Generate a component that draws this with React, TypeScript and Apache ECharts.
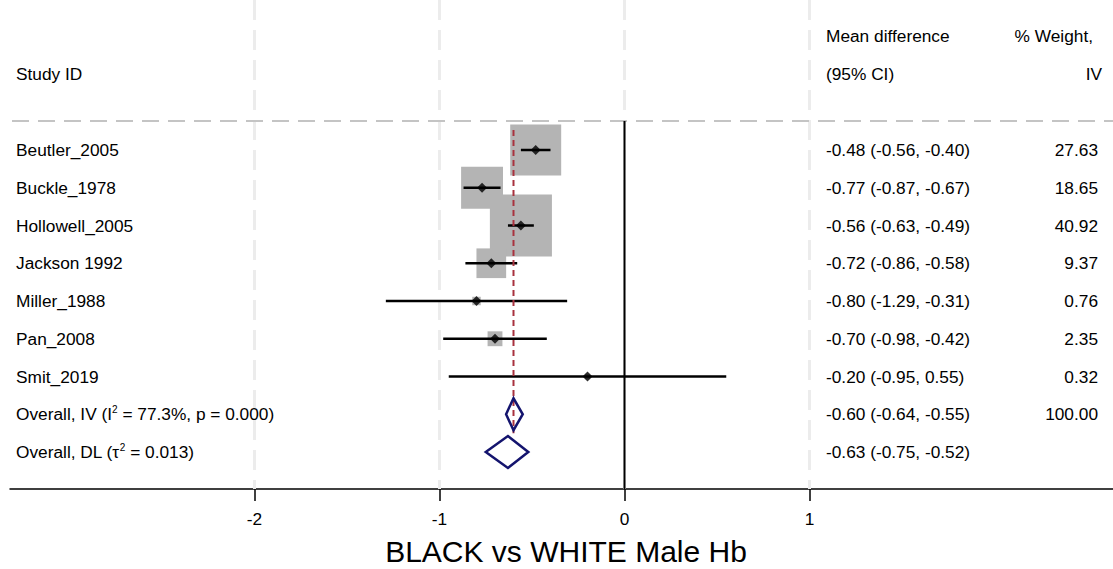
import React, { useEffect, useRef } from 'react';
import * as echarts from 'echarts';

// Study-level results (mean difference with 95% CI and inverse-variance weight)
const studies = ['Beutler_2005', 'Buckle_1978', 'Hollowell_2005', 'Jackson 1992', 'Miller_1988', 'Pan_2008', 'Smit_2019'];
const estimates = [-0.48, -0.77, -0.56, -0.72, -0.80, -0.70, -0.20];
const lowerCI = [-0.56, -0.87, -0.63, -0.86, -1.29, -0.98, -0.95];
const upperCI = [-0.40, -0.67, -0.49, -0.58, -0.31, -0.42, 0.55];
const weights = [27.63, 18.65, 40.92, 9.37, 0.76, 2.35, 0.32];

// Pooled estimates
const overallLabels = ['Overall, IV (I{sup|2} = 77.3%, p = 0.000)', 'Overall, DL (τ{sup|2} = 0.013)'];
const overallEst = [-0.60, -0.63];
const overallLower = [-0.64, -0.75];
const overallUpper = [-0.55, -0.52];
const overallWeight = ['100.00', ''];

const xTicks = [-2, -1, 0, 1];
const axisTitle = 'BLACK vs WHITE Male Hb';
const headerLeft = 'Study ID';
const headerCI = ['Mean difference', '(95% CI)'];
const headerWeight = ['% Weight,', 'IV'];

const FONT = '"Liberation Sans", Arial, Helvetica, sans-serif';
const FS = 17.3;
const X_MIN = (10 - 624.5) / 185;
const X_MAX = (1113 - 624.5) / 185;
const Y_MIN = -150 / 37.75;
const Y_MAX = (489 - 150) / 37.75;
const HEADER_ROW = (121 - 150) / 37.75;
const BOX_SCALE = 9.7;

const fmt = (v: number) => v.toFixed(2);

export default function App() {
  const ref = useRef<HTMLDivElement>(null);

  useEffect(() => {
    if (!ref.current) return;
    const chart = echarts.init(ref.current, undefined, { renderer: 'svg' });

    const nStudies = studies.length;
    const studyRows = studies.map((_, i) => i);
    const overallRows = overallEst.map((_, i) => nStudies + i);
    const allRows = [...studyRows, ...overallRows];

    const ciText = [
      ...estimates.map((e, i) => `${fmt(e)} (${fmt(lowerCI[i])}, ${fmt(upperCI[i])})`),
      ...overallEst.map((e, i) => `${fmt(e)} (${fmt(overallLower[i])}, ${fmt(overallUpper[i])})`),
    ];
    const weightText = [...weights.map(fmt), ...overallWeight];
    const labelText = [...studies, ...overallLabels];

    const textStyleBase = {
      fontFamily: FONT,
      fontSize: FS,
      fill: '#000',
      verticalAlign: 'middle',
      rich: {
        sup: { fontSize: 10, fontFamily: FONT, verticalAlign: 'top', padding: [0, 0, 9, 0] },
      },
    };

    const textColumn = (texts: string[], xPix: number, align: string, z: number) => ({
      type: 'custom',
      z,
      silent: true,
      data: allRows.map((r) => [r]),
      renderItem: (params: any, api: any) => {
        const c = api.coord([0, api.value(0)]);
        return {
          type: 'text',
          x: xPix,
          y: c[1],
          style: { ...textStyleBase, text: texts[params.dataIndex], x: 0, y: 0, align },
        };
      },
    });

    const headerText = (text: string, x: number, y: number, align = 'left') => ({
      type: 'text',
      x,
      y,
      style: { text, font: `${FS}px ${FONT}`, fill: '#000', verticalAlign: 'middle', align },
    });

    const option: any = {
      animation: false,
      backgroundColor: '#fff',
      grid: { left: 10, right: 0, top: 0, bottom: 80, containLabel: false },
      xAxis: {
        type: 'value',
        min: X_MIN,
        max: X_MAX,
        splitLine: { show: false },
        axisLine: { show: true, onZero: false, lineStyle: { color: '#000', width: 1.5 } },
        axisTick: { show: true, customValues: xTicks, length: 12, lineStyle: { color: '#000', width: 1.5 } },
        axisLabel: {
          customValues: xTicks,
          color: '#000',
          fontSize: FS,
          fontFamily: FONT,
          margin: 21,
        },
      },
      yAxis: {
        type: 'value',
        inverse: true,
        min: Y_MIN,
        max: Y_MAX,
        show: false,
      },
      graphic: [
        headerText(headerLeft, 16, 74),
        headerText(headerCI[0], 826, 36),
        headerText(headerCI[1], 826, 74),
        headerText(headerWeight[0], 1093, 36, 'right'),
        headerText(headerWeight[1], 1102, 74, 'right'),
        { type: 'text', x: 566, y: 551, style: { text: axisTitle, font: `30px ${FONT}`, fill: '#000', verticalAlign: 'middle', align: 'center' } },
      ],
      series: [
        // light dashed reference lines at each tick
        {
          type: 'custom',
          z: 1,
          silent: true,
          data: xTicks.map((v) => [v]),
          renderItem: (_p: any, api: any) => {
            const a = api.coord([api.value(0), Y_MIN]);
            const b = api.coord([api.value(0), Y_MAX]);
            return {
              type: 'line',
              shape: { x1: a[0], y1: a[1], x2: b[0], y2: b[1] },
              style: { stroke: '#ececec', lineWidth: 3, lineDash: [20, 10] },
            };
          },
        },
        // dashed separator under the header
        {
          type: 'custom',
          z: 2,
          silent: true,
          data: [[HEADER_ROW]],
          renderItem: (_p: any, api: any) => {
            const a = api.coord([X_MIN, api.value(0)]);
            const b = api.coord([X_MAX, api.value(0)]);
            return {
              type: 'line',
              shape: { x1: a[0] + 2, y1: a[1], x2: b[0], y2: b[1] },
              style: { stroke: '#c4c4c4', lineWidth: 2, lineDash: [17, 9] },
            };
          },
        },
        // line of no effect
        {
          type: 'custom',
          z: 3,
          silent: true,
          data: [[0]],
          renderItem: (_p: any, api: any) => {
            const a = api.coord([api.value(0), HEADER_ROW]);
            const b = api.coord([api.value(0), Y_MAX]);
            return {
              type: 'line',
              shape: { x1: a[0], y1: a[1], x2: b[0], y2: b[1] },
              style: { stroke: '#000', lineWidth: 2 },
            };
          },
        },
        // weight boxes
        {
          type: 'custom',
          z: 4,
          silent: true,
          data: studyRows.map((r) => [r, estimates[r], weights[r]]),
          renderItem: (_p: any, api: any) => {
            const c = api.coord([api.value(1), api.value(0)]);
            const s = BOX_SCALE * Math.sqrt(api.value(2));
            return {
              type: 'rect',
              shape: { x: c[0] - s / 2, y: c[1] - s / 2, width: s, height: s },
              style: { fill: '#b4b4b4' },
            };
          },
        },
        // confidence intervals
        {
          type: 'custom',
          z: 5,
          silent: true,
          data: studyRows.map((r) => [r, lowerCI[r], upperCI[r]]),
          renderItem: (_p: any, api: any) => {
            const a = api.coord([api.value(1), api.value(0)]);
            const b = api.coord([api.value(2), api.value(0)]);
            return {
              type: 'line',
              shape: { x1: a[0], y1: a[1], x2: b[0], y2: b[1] },
              style: { stroke: '#000', lineWidth: 2.5 },
            };
          },
        },
        // pooled estimate reference line
        {
          type: 'custom',
          z: 6,
          silent: true,
          data: [[overallEst[0]]],
          renderItem: (_p: any, api: any) => {
            const a = api.coord([api.value(0), -0.53]);
            const b = api.coord([api.value(0), nStudies + 0.5]);
            return {
              type: 'line',
              shape: { x1: a[0], y1: a[1], x2: b[0], y2: b[1] },
              style: { stroke: '#a8323e', lineWidth: 2, lineDash: [6, 4] },
            };
          },
        },
        // point estimates
        {
          type: 'scatter',
          z: 7,
          silent: true,
          symbol: 'diamond',
          symbolSize: [10, 10],
          itemStyle: { color: '#000' },
          data: studyRows.map((r) => [estimates[r], r]),
        },
        // pooled diamonds
        {
          type: 'custom',
          z: 7,
          silent: true,
          data: overallRows.map((r, i) => [r, overallLower[i], overallEst[i], overallUpper[i]]),
          renderItem: (_p: any, api: any) => {
            const row = api.value(0);
            const l = api.coord([api.value(1), row]);
            const m = api.coord([api.value(2), row]);
            const u = api.coord([api.value(3), row]);
            const h = 16;
            return {
              type: 'polygon',
              shape: { points: [[l[0], l[1]], [m[0], m[1] - h], [u[0], u[1]], [m[0], m[1] + h]] },
              style: { fill: 'none', stroke: '#14146e', lineWidth: 2.5, lineJoin: 'miter' },
            };
          },
        },
        textColumn(labelText, 16, 'left', 8),
        textColumn(ciText, 826, 'left', 8),
        textColumn(weightText, 1098, 'right', 8),
      ],
    };

    chart.setOption(option);
    return () => chart.dispose();
  }, []);

  return (
    <div
      ref={ref}
      style={{ position: 'fixed', left: 0, top: 0, width: 1113, height: 569, background: '#fff' }}
    />
  );
}
